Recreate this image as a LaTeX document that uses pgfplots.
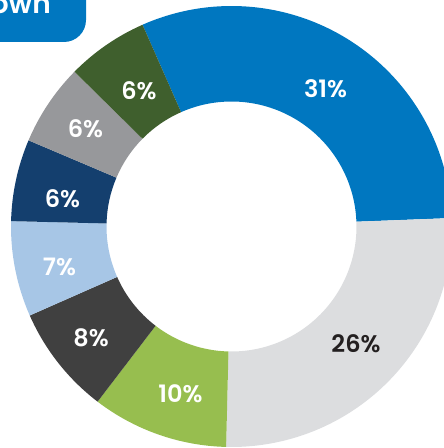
\documentclass[border=0pt]{standalone}
\usepackage{fontspec}
\setmainfont{Poppins}[BoldFont={Poppins SemiBold}]
\usepackage{pgfplots}
\usepackage{pgfplotstable}
\pgfplotsset{compat=1.18}
\definecolor{cBlue}{HTML}{0077C0}
\definecolor{cLGrey}{HTML}{DCDDDF}
\definecolor{cGreen}{HTML}{97BE4F}
\definecolor{cDGrey}{HTML}{404040}
\definecolor{cLBlue}{HTML}{A7C6E6}
\definecolor{cNavy}{HTML}{143F6E}
\definecolor{cGrey}{HTML}{97989B}
\definecolor{cDGreen}{HTML}{3F5F2D}
\definecolor{cText}{HTML}{231F20}
\pgfplotstableread{
v c
31 cBlue
26 cLGrey
10 cGreen
8 cDGrey
7 cLBlue
6 cNavy
6 cGrey
6 cDGreen
}\datatable
\begin{document}
\begin{tikzpicture}
\begin{axis}[name=ax, x=1pt, y=1pt, xmin=0, xmax=444, ymin=0, ymax=448,
  hide axis, clip=true]
\def\cum{0}
\pgfplotsforeachungrouped \i in {0,...,7}{%
  \pgfplotstablegetelem{\i}{v}\of\datatable \let\val\pgfplotsretval
  \pgfplotstablegetelem{\i}{c}\of\datatable \let\col\pgfplotsretval
  \pgfmathsetmacro\aS{113.8-3.6*\cum}%
  \pgfmathsetmacro\aE{113.8-3.6*(\cum+\val)}%
  \pgfmathsetmacro\xo{231.5+220.5*cos(\aS)}%
  \pgfmathsetmacro\yo{221.5+220.5*sin(\aS)}%
  \pgfmathsetmacro\xi{231.5+125*cos(\aE)}%
  \pgfmathsetmacro\yi{221.5+125*sin(\aE)}%
  \edef\doit{\noexpand\fill[\col] (axis cs:\xo,\yo) arc[start angle=\aS,end angle=\aE,radius=220.5pt] -- (axis cs:\xi,\yi) arc[start angle=\aE,end angle=\aS,radius=125pt] -- cycle;}%
  \doit
  \pgfmathsetmacro\cum{\cum+\val}%
}
\fill[cBlue, rounded corners=22pt] (axis cs:-60,406) rectangle (axis cs:86,480);
\node[anchor=base east, white, inner sep=0pt, font=\bfseries\fontsize{28}{28}\selectfont] at (axis cs:51,434) {Breakdown};
\tikzset{lab/.style={white, inner sep=0pt, font=\bfseries\fontsize{24}{24}\selectfont}}
\node[lab] at (axis cs:325.5,359.5) {31\%};
\node[lab, text=cText] at (axis cs:356,104.5) {26\%};
\node[lab] at (axis cs:180.5,54.5) {10\%};
\node[lab] at (axis cs:91,110) {8\%};
\node[lab] at (axis cs:59.5,181) {7\%};
\node[lab] at (axis cs:62.5,249.5) {6\%};
\node[lab] at (axis cs:85.5,319.5) {6\%};
\node[lab] at (axis cs:139,357.5) {6\%};
\end{axis}
\pgfresetboundingbox
\path[use as bounding box] (ax.south west) rectangle (ax.north east);
\end{tikzpicture}
\end{document}
